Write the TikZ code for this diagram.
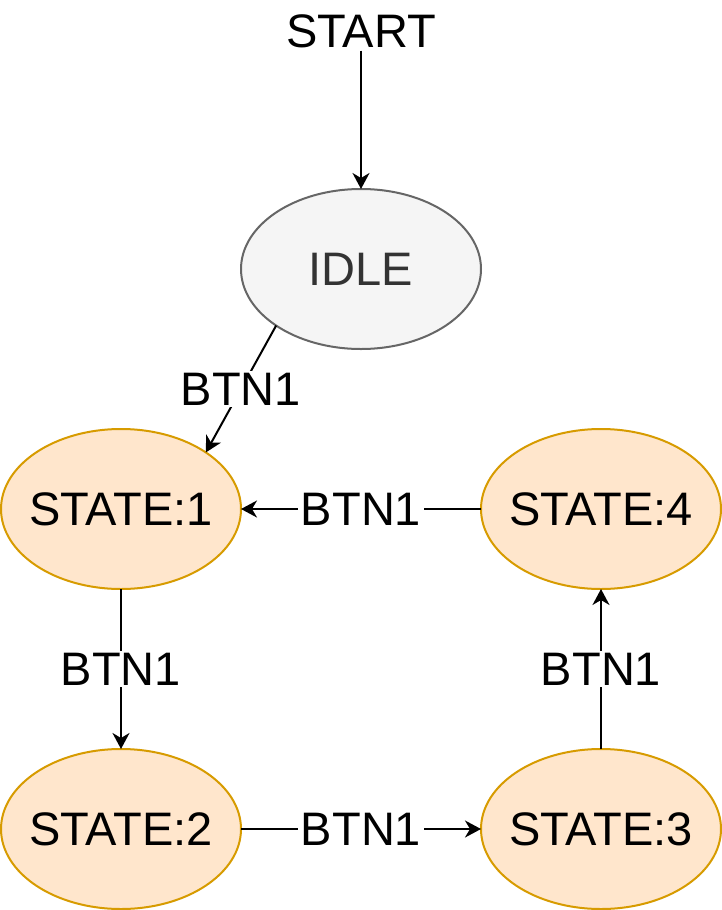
\documentclass[tikz,border=0pt]{standalone}
\usepackage{fontspec}
\setmainfont{Liberation Sans}
\usetikzlibrary{arrows.meta,shapes.geometric}
\definecolor{stfill}{HTML}{FFE6CC}
\definecolor{stdraw}{HTML}{D79B00}
\definecolor{idfill}{HTML}{F5F5F5}
\definecolor{iddraw}{HTML}{666666}
\definecolor{idtext}{HTML}{333333}
\newcommand{\ctr}[1]{\makebox[0pt][c]{#1}}
\begin{document}
\begin{tikzpicture}[x=1pt,y=-1pt,
  every node/.style={font=\fontsize{47}{54}\selectfont},
  statebox/.style={ellipse, minimum width=240pt, minimum height=160pt, inner sep=0pt, outer sep=0pt, line width=2pt, draw=stdraw, fill=stfill},
  idlebox/.style={ellipse, minimum width=240pt, minimum height=160pt, inner sep=0pt, outer sep=0pt, line width=2pt, draw=iddraw, fill=idfill, text=idtext},
  conn/.style={line width=2pt, -{Stealth[length=16pt,width=17pt,inset=5pt]}},
  lbl/.style={fill=white, inner xsep=3pt, inner ysep=2pt}
]
\useasboundingbox (0,0) rectangle (722,910);
\node[anchor=base, inner sep=3pt] (start) at (361,47) {START};
\node[idlebox] (idle) at (361,269) {\ctr{IDLE}};
\node[statebox] (s1) at (121,509) {\ctr{STATE:1}};
\node[statebox] (s4) at (601,509) {\ctr{STATE:4}};
\node[statebox] (s2) at (121,829) {\ctr{STATE:2}};
\node[statebox] (s3) at (601,829) {\ctr{STATE:3}};
\draw[conn] (start.south) -- (idle.north);
\draw[conn] (idle.south west) -- node[lbl] {BTN1} (s1.north east);
\draw[conn] (s4.west) -- node[lbl] {BTN1} (s1.east);
\draw[conn] (s1.south) -- node[lbl] {BTN1} (s2.north);
\draw[conn] (s2.east) -- node[lbl] {BTN1} (s3.west);
\draw[conn] (s3.north) -- node[lbl] {BTN1} (s4.south);
\end{tikzpicture}
\end{document}
